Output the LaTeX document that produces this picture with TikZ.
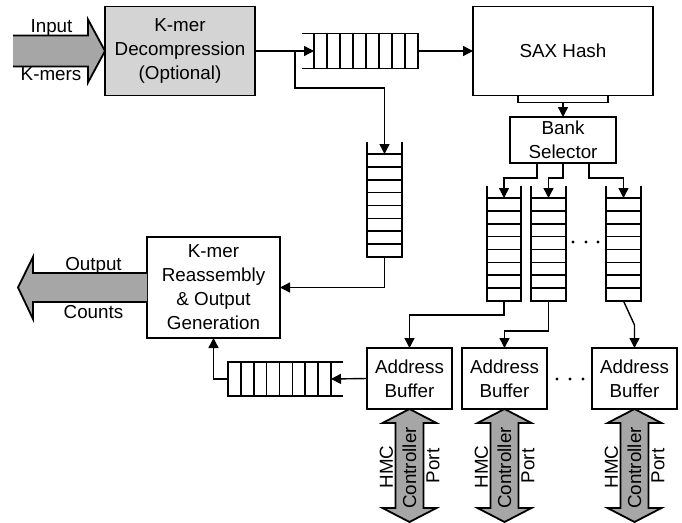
\documentclass[tikz,border=0pt]{standalone}
\usepackage{fontspec}
\setmainfont{Liberation Sans}
\usetikzlibrary{arrows.meta,calc}
\definecolor{boxgray}{HTML}{D4D4D4}
\definecolor{bigfill}{HTML}{A6A6A6}
\newcommand{\vqueue}[1]{%
  \draw[qline] ([yshift=12pt]#1.north west) -- (#1.south west) -- (#1.south east) -- ([yshift=12pt]#1.north east);
  \foreach \i in {0,...,7} \draw[qline] ($(#1.north west)!\i/8!(#1.south west)$) -- ($(#1.north east)!\i/8!(#1.south east)$);}
\newcommand{\hqueueL}[1]{%
  \draw[qline] ([xshift=-12pt]#1.north west) -- (#1.north east) -- (#1.south east) -- ([xshift=-12pt]#1.south west);
  \foreach \i in {0,...,7} \draw[qline] ($(#1.north west)!\i/8!(#1.north east)$) -- ($(#1.south west)!\i/8!(#1.south east)$);}
\newcommand{\hqueueR}[1]{%
  \draw[qline] ([xshift=12pt]#1.north east) -- (#1.north west) -- (#1.south west) -- ([xshift=12pt]#1.south east);
  \foreach \i in {1,...,8} \draw[qline] ($(#1.north west)!\i/8!(#1.north east)$) -- ($(#1.south west)!\i/8!(#1.south east)$);}
\newcommand{\hmcport}[1]{%
  \draw[big] (#1.south) -- ++(27,14) -- ++(-13,0) -- ++(0,85) -- ++(13,0) -- ++(-27,14) -- ++(-27,-14) -- ++(13,0) -- ++(0,-85) -- ++(-13,0) -- cycle;
  \node[rotate=90] (#1h) at ($(#1.south)+(-23,58)$) {HMC};
  \node[rotate=90] (#1c) at ($(#1.south)+(0,59)$) {Controller};
  \node[rotate=90] (#1p) at ($(#1.south)+(23.5,57)$) {Port};}
\begin{document}
\begin{tikzpicture}[x=1pt,y=-1pt,
  font=\fontsize{18.8}{24}\selectfont,
  box/.style={draw, line width=1.8pt, inner sep=0pt, outer sep=0pt, align=center},
  qarea/.style={inner sep=0pt, outer sep=0pt},
  qline/.style={line width=1.6pt},
  conn/.style={line width=1.4pt},
  arr/.style={conn, -{Triangle[length=10pt,width=10pt]}},
  big/.style={fill=bigfill, draw=black, line width=1.8pt, line join=miter}]
\useasboundingbox (0,0) rectangle (682,522);

% boxes
\node[box, fill=boxgray, minimum width=150pt, minimum height=89pt] (decomp) at (180,51) {K-mer\\Decompression\\(Optional)};
\node[box, minimum width=180pt, minimum height=89pt] (sax) at (563,51) {SAX Hash};
\node[box, minimum width=106pt, minimum height=46pt] (bank) at (563,140) {Bank\\Selector};
\node[box, minimum width=133pt, minimum height=101pt] (reasm) at (213.5,287.5) {K-mer\\Reassembly\\\& Output\\Generation};
\node[box, minimum width=85pt, minimum height=61pt] (ab1) at (409.5,378.5) {Address\\Buffer};
\node[box, minimum width=85pt, minimum height=61pt] (ab2) at (504.5,378.5) {Address\\Buffer};
\node[box, minimum width=85pt, minimum height=61pt] (ab3) at (634.5,378.5) {Address\\Buffer};

% queues
\node[qarea, minimum width=104pt, minimum height=35pt] (qa) at (366,51) {};
\node[qarea, minimum width=35pt, minimum height=103pt] (qv) at (384.5,205.5) {};
\node[qarea, minimum width=34pt, minimum height=103pt] (qb1) at (504,249.5) {};
\node[qarea, minimum width=35pt, minimum height=103pt] (qb2) at (548.5,249.5) {};
\node[qarea, minimum width=35pt, minimum height=103pt] (qb3) at (623.5,249.5) {};
\node[qarea, minimum width=103pt, minimum height=34pt] (qc) at (279.5,379) {};
\hqueueL{qa}
\vqueue{qv}
\vqueue{qb1}
\vqueue{qb2}
\vqueue{qb3}
\hqueueR{qc}

% big arrows
\draw[big] (13,35.5) -- (88,35.5) -- (88,19.5) -- (decomp.west) -- (88,82.5) -- (88,66.5) -- (13,66.5);
\node[anchor=base] (inlab) at (51.5,32) {Input};
\node[anchor=base] (kmlab) at (51,80) {K-mers};
\draw[big] (reasm.west |- 0,273) -- (33,273) -- (33,257) -- (18,287.5) -- (33,319) -- (33,302) -- (reasm.west |- 0,302);
\node[anchor=base] (outlab) at (93.5,270) {Output};
\node[anchor=base] (cntlab) at (93.5,318) {Counts};
\hmcport{ab1}
\hmcport{ab2}
\hmcport{ab3}

% connectors
\draw[arr] (decomp.east) -- (qa.west);
\coordinate (br) at (295,51);
\draw[arr] (br) -- ++(0,37) -| (qv.north);
\draw[arr] (qa.east) -- (sax.west);
\draw[conn] ([xshift=-45pt]sax.south) -- ++(0,7) -| ([xshift=45pt]sax.south);
\coordinate (tabmid) at ($(sax.south)+(0,7)$);
\draw[arr] (tabmid) -- (bank.north);
\draw[arr] ([xshift=-26pt]bank.south) -- ++(0,15) -| (qb1.north);
\draw[arr] (bank.south) -- ++(0,15) -| (qb2.north);
\draw[arr] ([xshift=26pt]bank.south) -- ++(0,15) -| (qb3.north);
\draw[arr] (qv.south) |- (reasm.east);
\draw[arr] (qb1.south) -- ++(0,14) -| (ab1.north);
\draw[arr] (qb2.south) -- ++(0,30) -| (ab2.north);
\draw[arr] (qb3.south) -- ++(11,24) -- (ab3.north);
\draw[arr] (ab1.west) -- (qc.east);
\draw[arr] (qc.west) -| (reasm.south);

% dots
\foreach \x in {573,586,598} \fill (\x,242) circle (1.7pt);
\foreach \x in {557,570,583} \fill (\x,379) circle (1.7pt);
\end{tikzpicture}
\end{document}
